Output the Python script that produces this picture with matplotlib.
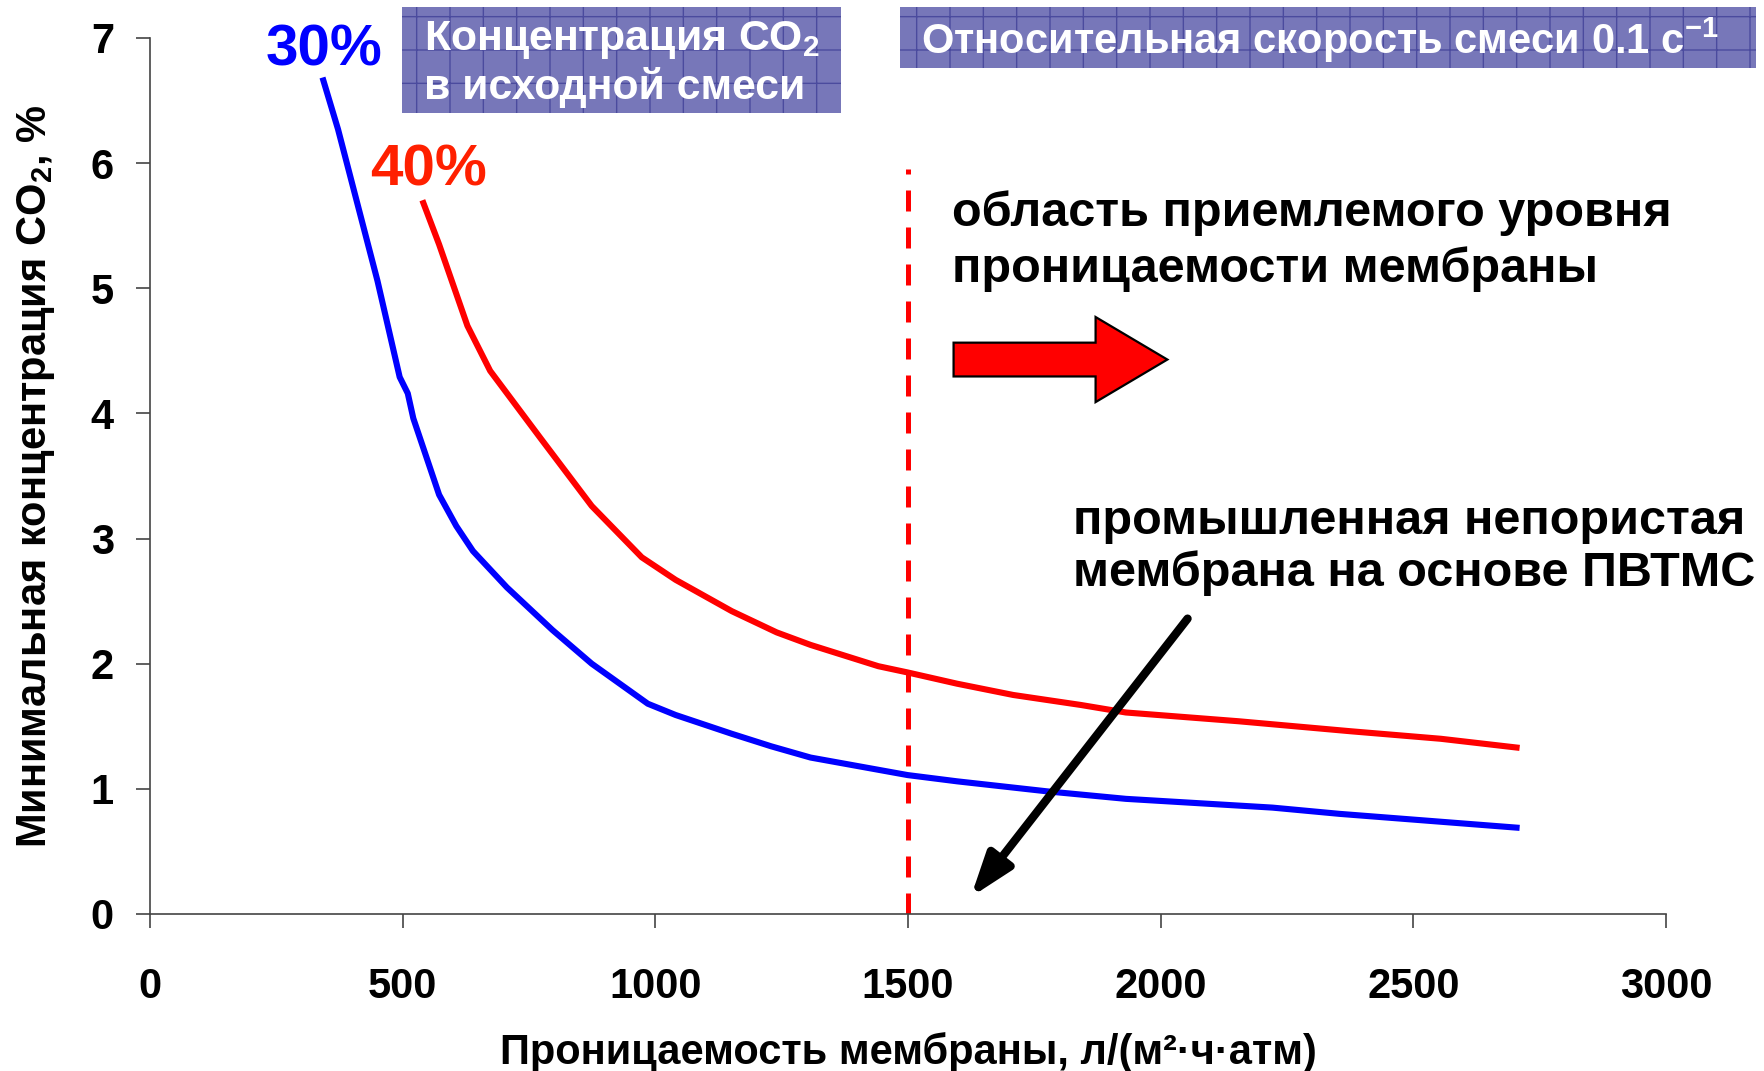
import numpy as np
import matplotlib.pyplot as plt
from matplotlib.patches import Rectangle, Polygon

plt.rcParams['font.family'] = ['Liberation Sans', 'DejaVu Sans']
plt.rcParams['font.weight'] = 'bold'
plt.rcParams['hatch.linewidth'] = 0.5

# blue curve: 30% CO2 in feed
perm_30 = [343, 372, 450, 494, 510, 521, 572, 606, 639, 706, 796, 874, 985, 1040,
           1151, 1229, 1307, 1499, 1597, 1775, 1931, 2221, 2354, 2704]
conc_30 = [6.66, 6.27, 5.06, 4.29, 4.16, 3.96, 3.35, 3.10, 2.90, 2.61, 2.27, 2.00, 1.68, 1.59,
           1.44, 1.34, 1.25, 1.11, 1.06, 0.98, 0.92, 0.85, 0.80, 0.69]
# red curve: 40% CO2 in feed
perm_40 = [541, 572, 628, 673, 773, 874, 973, 1040, 1151, 1240, 1307, 1441, 1499,
           1597, 1708, 1842, 1931, 2154, 2376, 2554, 2704]
conc_40 = [5.68, 5.35, 4.70, 4.34, 3.80, 3.26, 2.85, 2.67, 2.42, 2.25, 2.15, 1.98, 1.93,
           1.84, 1.75, 1.67, 1.61, 1.54, 1.46, 1.40, 1.33]

x_ticks = [0, 500, 1000, 1500, 2000, 2500, 3000]
y_ticks = [0, 1, 2, 3, 4, 5, 6, 7]
limit_perm = 1500

fig = plt.figure(figsize=(8.825, 5.355), dpi=200)
ax = fig.add_axes([0.085, 0.1466, 0.859, 0.818])

ax.plot(perm_30, conc_30, color='#0000FF', lw=2.2)
ax.plot(perm_40, conc_40, color='#FF0000', lw=2.2)
ax.plot([limit_perm, limit_perm], [0, 5.95], color='#FF0000', lw=1.8, ls=(0, (4.2, 3.2)))

ax.set_xlim(0, 3000)
ax.set_ylim(0, 7)
ax.set_xticks(x_ticks)
ax.set_yticks(y_ticks)
ax.tick_params(direction='out', length=5, width=0.6, color='#444444', labelsize=15)
ax.tick_params(axis='x', pad=14)
ax.tick_params(axis='y', pad=8)
for lab in ax.get_xticklabels() + ax.get_yticklabels():
    lab.set_fontweight('bold')
ax.spines['top'].set_visible(False)
ax.spines['right'].set_visible(False)
for s in ['left', 'bottom']:
    ax.spines[s].set_linewidth(0.6)
    ax.spines[s].set_color('#444444')

ax.set_xlabel('Проницаемость мембраны, л/(м²·ч·атм)', fontsize=15,
              fontweight='bold', labelpad=9)
ax.set_ylabel(r'Минимальная концентрация CO$_\mathregular{2}$, %',
              fontsize=15, fontweight='bold', labelpad=12)

ax.text(345, 6.9, '30%', color='#0000FF', fontsize=21, fontweight='bold', ha='center', va='center')
ax.text(552, 5.94, '40%', color='#FF2000', fontsize=21, fontweight='bold', ha='center', va='center')

ax.text(1586, 5.6, 'область приемлемого уровня', fontsize=17.5, fontweight='bold', va='center')
ax.text(1586, 5.15, 'проницаемости мембраны', fontsize=17.5, fontweight='bold', va='center')
ax.text(1826, 3.14, 'промышленная непористая', fontsize=17.5, fontweight='bold', va='center')
ax.text(1826, 2.72, 'мембрана на основе ПВТМС', fontsize=17.5, fontweight='bold', va='center')

# red block arrow
arrow = Polygon([(1590, 4.295), (1871, 4.295), (1871, 4.09), (2013, 4.43),
                 (1871, 4.77), (1871, 4.565), (1590, 4.565)], closed=True,
                facecolor='#FF0000', edgecolor='black', lw=0.8)
ax.add_patch(arrow)

# black arrow to the industrial membrane
ax.annotate('', xy=(1624, 0.135), xytext=(2053, 2.36),
            arrowprops=dict(arrowstyle='-|>,head_length=1.3,head_width=0.45',
                            color='black', lw=3, shrinkA=0, shrinkB=0))

# header boxes
box_col = '#7777B9'
grid_col = '#4B4B9E'
b1 = Rectangle((0.2278, 0.8945), 0.2487, 0.099, transform=fig.transFigure,
               facecolor=box_col, edgecolor=grid_col, hatch='+', lw=0)
b2 = Rectangle((0.510, 0.9365), 0.485, 0.057, transform=fig.transFigure,
               facecolor=box_col, edgecolor=grid_col, hatch='+', lw=0)
fig.patches.extend([b1, b2])
fig.text(0.24, 0.963, r'Концентрация CO$_\mathregular{2}$', color='white', fontsize=15.4,
         fontweight='bold', va='center')
fig.text(0.24, 0.918, 'в исходной смеси', color='white', fontsize=15.4,
         fontweight='bold', va='center')
fig.text(0.522, 0.962, r'Относительная скорость смеси 0.1 с$^\mathregular{-1}$', color='white',
         fontsize=15, fontweight='bold', va='center')

fig.savefig('out.png', dpi=200)
